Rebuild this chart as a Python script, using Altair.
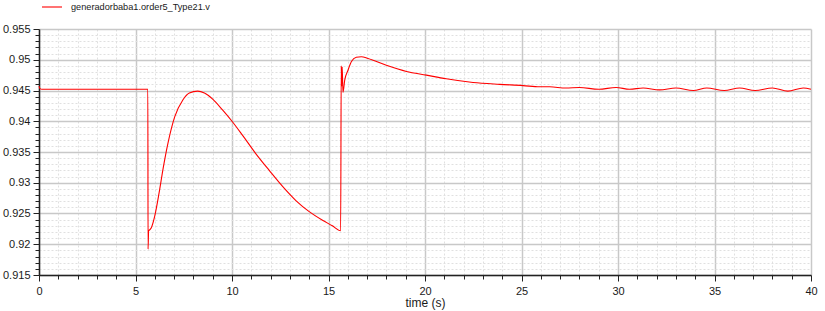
import altair as alt
import pandas as pd

series_name = "generadorbaba1.order5_Type21.v"

time_s = [0.0, 0.05, 0.15, 1.0, 2.0, 3.0, 4.0, 5.0, 5.64,
          5.65, 5.68, 5.72, 5.82, 5.99, 6.22, 6.43, 6.68, 7.03, 7.46, 7.79,
          8.22, 8.57, 9.0, 9.52, 10.0, 10.55, 11.24, 11.93, 12.62, 13.31,
          14.0, 14.69, 15.2, 15.63,
          15.66, 15.68, 15.71, 15.75, 15.84, 16.01, 16.19, 16.44, 16.7, 17.05,
          18.0, 19.04, 20.07, 21.1, 22.49, 23.87, 25.08, 25.94, 26.46, 27.3,
          28.0, 29.0, 29.9, 30.6, 31.3, 32.15, 33.0, 33.9, 34.6, 35.5,
          36.3, 37.1, 38.0, 38.8, 39.6, 40.0]

voltage = [0.9457, 0.9453, 0.9452, 0.9452, 0.9452, 0.9452, 0.9452, 0.9452, 0.9452,
           0.9192, 0.9222, 0.9223, 0.9227, 0.9245, 0.9283, 0.9323, 0.9364, 0.9407, 0.9435, 0.9446,
           0.9449, 0.9446, 0.9436, 0.9418, 0.9400, 0.9377, 0.9347, 0.9320, 0.9294, 0.9271,
           0.9253, 0.9239, 0.9230, 0.9222,
           0.9490, 0.9457, 0.9488, 0.9447, 0.9467, 0.9483, 0.9497, 0.9504, 0.9505, 0.9502,
           0.9491, 0.9481, 0.9475, 0.9469, 0.9463, 0.9460, 0.9458, 0.9456, 0.9456, 0.9454,
           0.9455, 0.9452, 0.9455, 0.9452, 0.9454, 0.9451, 0.9454, 0.9450, 0.9454, 0.9450,
           0.9454, 0.9450, 0.9454, 0.9449, 0.9454, 0.9452]

x_tick_values = list(range(0, 41))
y_tick_values = [round(0.915 + i * 0.001, 3) for i in range(41)]

df = pd.DataFrame({"t": time_s, "v": voltage, "series": series_name})

x_major = "abs(datum.value / 5 - round(datum.value / 5)) < 1e-6"
y_major = "abs(datum.value * 200 - round(datum.value * 200)) < 1e-6"

FONT = "Liberation Sans"

x_axis = alt.Axis(
    values=x_tick_values,
    title="time (s)",
    titleFont=FONT, titleFontSize=12, titleFontWeight="normal", titleColor="#1a1a1a",
    titlePadding=1,
    labelExpr=f"({x_major}) ? format(datum.value, 'd') : ''",
    labelOverlap=False, labelFont=FONT, labelFontSize=11, labelColor="#1a1a1a",
    labelPadding=4, labelFlush=False,
    grid=True,
    gridDash={"condition": {"test": x_major, "value": []}, "value": [2, 2]},
    gridColor={"condition": {"test": x_major, "value": "#c8c8c8"}, "value": "#e0e0e0"},
    gridWidth={"condition": {"test": x_major, "value": 1.5}, "value": 1},
    tickSize={"condition": {"test": x_major, "value": 6}, "value": 4},
    tickColor="#222222", tickWidth=1,
    domainColor="#222222", domainWidth=1.5,
)

y_axis = alt.Axis(
    values=y_tick_values,
    title=None,
    labelExpr=f"({y_major}) ? format(datum.value, '.3~f') : ''",
    labelOverlap=False, labelFont=FONT, labelFontSize=11, labelColor="#1a1a1a",
    labelPadding=3, labelFlush=False,
    grid=True,
    gridDash={"condition": {"test": y_major, "value": []}, "value": [2, 2]},
    gridColor={"condition": {"test": y_major, "value": "#c8c8c8"}, "value": "#e0e0e0"},
    gridWidth={"condition": {"test": y_major, "value": 1.5}, "value": 1},
    tickSize={"condition": {"test": y_major, "value": 6}, "value": 4},
    tickColor="#222222", tickWidth=1,
    domainColor="#222222", domainWidth=1.5,
)

chart = alt.Chart(df).mark_line(strokeWidth=1.1, interpolate="monotone").encode(
    x=alt.X("t:Q", scale=alt.Scale(domain=[0, 40], nice=False, zero=False), axis=x_axis),
    y=alt.Y("v:Q", scale=alt.Scale(domain=[0.915, 0.955], nice=False, zero=False), axis=y_axis),
    color=alt.Color(
        "series:N",
        scale=alt.Scale(range=["#ff0000"]),
        legend=alt.Legend(
            orient="none", legendX=2, legendY=-33, title=None,
            symbolType="stroke", symbolSize=400, symbolStrokeWidth=1.1,
            labelFont=FONT, labelFontSize=9.2, labelColor="#1a1a1a", labelOffset=8,
            padding=0,
        ),
    ),
    order=alt.Order("t:Q"),
).properties(
    width=772, height=246,
    autosize=alt.AutoSizeParams(type="none"),
    padding={"left": 39, "top": 29, "right": 14, "bottom": 36},
    background="white",
).configure_view(strokeWidth=0)

chart.save("out.html", embed_options={"renderer": "svg", "actions": False})
